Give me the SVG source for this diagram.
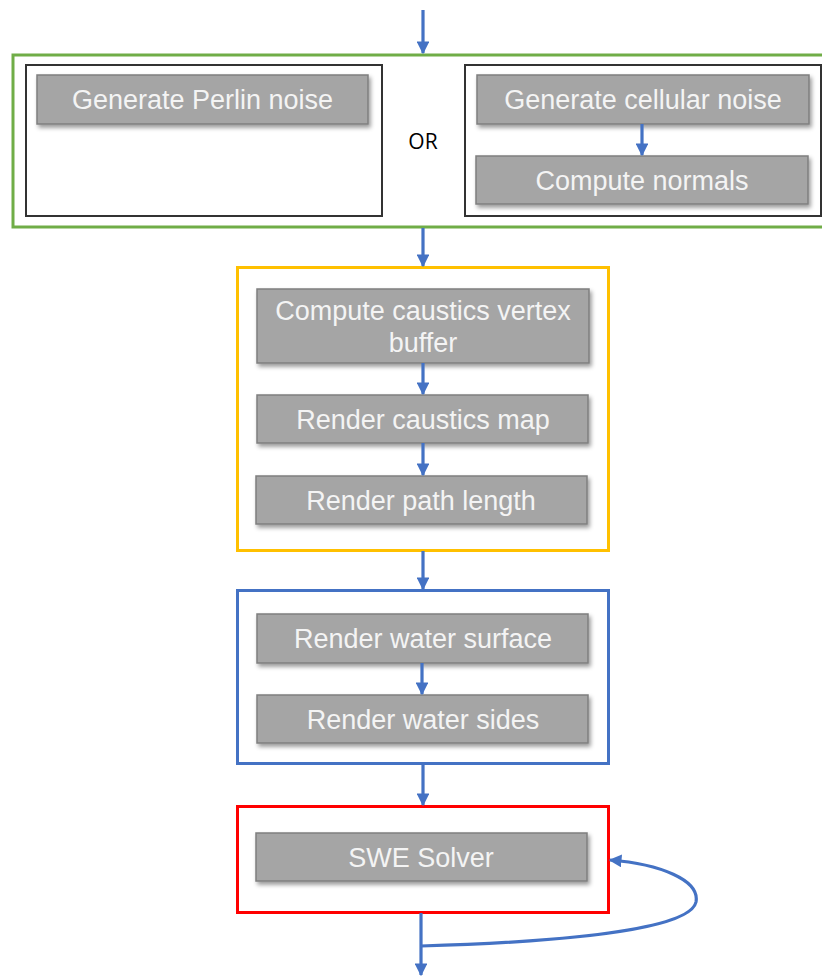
<svg xmlns="http://www.w3.org/2000/svg" width="822" height="976" viewBox="0 0 822 976">
  <defs>
    <filter id="shadow" x="-5%" y="-20%" width="112%" height="150%">
      <feDropShadow dx="2" dy="3" stdDeviation="2" flood-color="#000" flood-opacity="0.4"/>
    </filter>
    <marker id="arrow" viewBox="0 0 10 10" refX="9" refY="5" markerWidth="4" markerHeight="4" markerUnits="strokeWidth" orient="auto">
      <path d="M0,0 L10,5 L0,10 Z" fill="#4472c4"/>
    </marker>
  </defs>
  <style>
    .step { fill: #a5a5a5; stroke: #7f7f7f; stroke-width: 1.5; filter: url(#shadow); }
    .label { font-family: "Liberation Sans", Arial, sans-serif; font-size: 27px; fill: #f4f4f4; text-anchor: middle; }
    .frame { fill: #fff; stroke-width: 3; }
    .inner { fill: #fff; stroke: #333; stroke-width: 2; }
    .link { fill: none; stroke: #4472c4; stroke-width: 3.2; marker-end: url(#arrow); }
  </style>
  <rect width="822" height="976" fill="#fff"/>

  <!-- noise generation stage -->
  <g id="noise-stage">
    <rect class="frame" x="13" y="55" width="820" height="172" stroke="#70ad47"/>
    <rect class="inner" x="26" y="65" width="356" height="151"/>
    <rect class="inner" x="465" y="65" width="356" height="151"/>
    <text x="423" y="149" font-family="'Open Sans', 'Liberation Sans', sans-serif" font-size="21" fill="#000" text-anchor="middle">OR</text>
  </g>
  <g id="perlin">
    <rect class="step" x="37" y="75" width="331" height="49"/>
    <text class="label" x="202.5" y="109">Generate Perlin noise</text>
  </g>
  <g id="cellular">
    <rect class="step" x="477" y="75" width="332" height="49"/>
    <text class="label" x="643" y="109">Generate cellular noise</text>
  </g>
  <g id="normals">
    <rect class="step" x="476" y="156" width="332" height="48"/>
    <text class="label" x="642" y="190">Compute normals</text>
  </g>

  <!-- caustics stage -->
  <g id="caustics-stage">
    <rect class="frame" x="237.5" y="267.5" width="371" height="283" stroke="#ffc000"/>
  </g>
  <g id="vertex-buffer">
    <rect class="step" x="257" y="289" width="332" height="74"/>
    <text class="label" x="423" y="320">Compute caustics vertex</text>
    <text class="label" x="423" y="352">buffer</text>
  </g>
  <g id="caustics-map">
    <rect class="step" x="257" y="395" width="331" height="48"/>
    <text class="label" x="423" y="429">Render caustics map</text>
  </g>
  <g id="path-length">
    <rect class="step" x="256" y="476" width="331" height="48"/>
    <text class="label" x="421" y="510">Render path length</text>
  </g>

  <!-- water rendering stage -->
  <g id="water-stage">
    <rect class="frame" x="237.5" y="590.5" width="371" height="173" stroke="#4472c4"/>
  </g>
  <g id="water-surface">
    <rect class="step" x="257" y="614" width="331" height="49"/>
    <text class="label" x="423" y="648">Render water surface</text>
  </g>
  <g id="water-sides">
    <rect class="step" x="257" y="695" width="331" height="48"/>
    <text class="label" x="423" y="729">Render water sides</text>
  </g>

  <!-- solver stage -->
  <g id="solver-stage">
    <rect class="frame" x="237.5" y="806.5" width="371" height="106" stroke="#ff0000" stroke-width="3.5"/>
  </g>
  <g id="swe-solver">
    <rect class="step" x="256" y="833" width="331" height="48"/>
    <text class="label" x="421" y="867">SWE Solver</text>
  </g>

  <!-- connectors -->
  <g id="connectors">
    <line class="link" x1="423" y1="10" x2="423" y2="53"/>
    <line class="link" x1="642" y1="124" x2="642" y2="155"/>
    <line class="link" x1="423" y1="228" x2="423" y2="266"/>
    <line class="link" x1="423" y1="363" x2="423" y2="394"/>
    <line class="link" x1="423" y1="443" x2="423" y2="475"/>
    <line class="link" x1="423" y1="551" x2="423" y2="589"/>
    <line class="link" x1="422" y1="663" x2="422" y2="694"/>
    <line class="link" x1="423" y1="764" x2="423" y2="805"/>
    <line class="link" x1="421" y1="913" x2="421" y2="975"/>
    <path class="link" d="M421,946 C560,942 690,930 696,902 C700,880 660,864 610,860"/>
  </g>
</svg>
